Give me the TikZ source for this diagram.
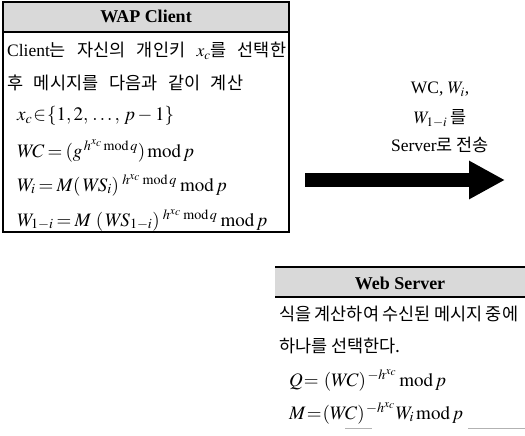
\documentclass[tikz,border=0pt]{standalone}
\usepackage{mathptmx}
\usepackage{fontspec}
\setmainfont{Liberation Serif}
\newfontfamily\kr{Noto Sans CJK KR}
\usetikzlibrary{arrows.meta}

% residue operator with tight spacing
\newcommand{\rmod}{\mathrm{mod}\,}

\tikzset{
  frame/.style={line width=2.4pt},
  headband/.style={fill=gray!30, draw=none},
  headtitle/.style={font=\fontsize{18}{21}\selectfont\bfseries, inner sep=0pt, anchor=base},
  bodyline/.style={anchor=base west, inner sep=0pt, font=\fontsize{17.5}{21}\selectfont},
  mathline/.style={anchor=base west, inner sep=0pt, font=\fontsize{19}{22}\selectfont},
  sidetext/.style={anchor=base, inner sep=0pt, font=\fontsize{17.5}{20}\selectfont},
  sendarrow/.style={line width=14pt, -{Triangle[length=36pt,width=36pt]}}
}

\begin{document}
\begin{tikzpicture}[x=1pt,y=-1pt]
  \useasboundingbox (0,0) rectangle (525,436);
  \thickmuskip=3mu plus 2mu

  % ---- WAP client panel ----
  \fill[headband] (3,2) rectangle (289,32);
  \draw[line width=1.3pt] (3,32) -- (289,32);
  \draw[frame] (3,2) rectangle (289,232);
  \node[headtitle] (ctitle) at (146,23) {WAP Client};

  \node[bodyline] (c1) at (7,57) {\hbox to 279pt{Client{\kr 는}\hfill{\kr 자신의}\hfill{\kr 개인키}\hfill$x_c${\kr 를}\hfill{\kr 선택한}}};
  \node[bodyline] (c2) at (7,89) {\hbox to 236pt{{\kr 후}\hfill{\kr 메시지를}\hfill{\kr 다음과}\hfill{\kr 같이}\hfill{\kr 계산}}};
  \node[mathline] (c3) at (17,121) {$x_c\!\in\!\{1,2,\,.\,.\,.\,,\,p-1\}$};
  \node[mathline] (c4) at (17,157) {$W\!C=(g^{\,h^{x_c}\,\rmod q})\,\rmod p$};
  \node[mathline] (c5) at (17,191) {$W_i=M(\,W\!S_i)\;^{h^{x_c}\;\rmod q}\;\rmod p$};
  \node[mathline] (c6) at (17,226) {$W_{1-i}=M\ (\,W\!S_{1-i})\;^{h^{x_c}\;\rmod q}\;\rmod p$};

  % ---- transmitted values ----
  \node[sidetext] (s1) at (440,94) {WC, $W_i$,};
  \node[sidetext] (s2) at (440,124) {$W_{1-i}$\,{\kr 를}};
  \node[sidetext] (s3) at (440,151) {Server{\kr 로 전송}};

  \coordinate (arrowtail) at (305,180);
  \coordinate (arrowhead) at (505,180);
  \draw[sendarrow] (arrowtail) -- (arrowhead);

  % ---- web server panel ----
  \fill[headband] (275,267) rectangle (530,297);
  \draw[line width=2.4pt] (275,267) -- (530,267);
  \draw[line width=1.3pt] (275,297) -- (530,297);
  \node[headtitle] (stitle) at (400,289) {Web Server};

  \node[bodyline] (w1) at (279,320) {\hbox to 239pt{{\kr 식을}\hfill{\kr 계산하여}\hfill{\kr 수신된}\hfill{\kr 메시지}\hfill{\kr 중에}}};
  \node[bodyline] (w2) at (279,352) {\kr 하나를 선택한다.};
  \node[mathline] (w3) at (289,386) {$Q\!=\,(W\!C)^{\,-h^{x_c}}\,\rmod p$};
  \node[mathline] (w4) at (289,419) {$M\!=\!(W\!C)^{\,-h^{x_c}}W_i\,\rmod p$};

  \draw[gray!60, line width=1pt] (345,428) -- (372,428);
  \draw[gray!60, line width=1pt] (468,428) -- (525,428);
\end{tikzpicture}
\end{document}
